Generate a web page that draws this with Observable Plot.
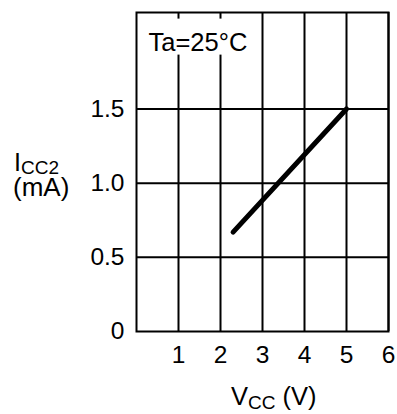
<!DOCTYPE html>
<html>
<head>
<meta charset="utf-8">
<script src="https://cdn.jsdelivr.net/npm/d3@7"></script>
<script src="https://cdn.jsdelivr.net/npm/@observablehq/plot@0.6"></script>
<style>
  html, body { margin: 0; padding: 0; background: #fff; }
  #chart svg { display: block; }
</style>
</head>
<body>
<div id="chart"></div>
<script>
// Data
const vcc = [2.3, 5.0];           // V
const icc2 = [0.67, 1.5];         // mA
const xTicks = [1, 2, 3, 4, 5, 6];
const yTicks = [0, 0.5, 1.0, 1.5];
const yTickLabels = ["0", "0.5", "1.0", "1.5"];
const yGrid = [0.5, 1.0, 1.5];
const annotation = ["Ta=25°C"];

const data = vcc.map((v, i) => ({vcc: v, icc: icc2[i]}));
const font = "'Liberation Sans', Arial, Helvetica, sans-serif";

const plot = Plot.plot({
  width: 397,
  height: 414,
  marginLeft: 136,
  marginRight: 9,
  marginTop: 12,
  marginBottom: 83,
  style: {fontFamily: font, fontSize: "24px", color: "black", background: "white"},
  x: {domain: [0, 6]},
  y: {domain: [0, 2.15]},
  marks: [
    Plot.gridX(xTicks, {stroke: "black", strokeOpacity: 1, strokeWidth: 2}),
    Plot.gridY(yGrid, {stroke: "black", strokeOpacity: 1, strokeWidth: 2}),
    Plot.frame({stroke: "black", strokeWidth: 2}),
    Plot.text(annotation, {
      frameAnchor: "top-left", textAnchor: "start", lineAnchor: "top",
      dx: 12, dy: 20, fontSize: 25.5, fill: "black"
    }),
    Plot.line(data, {x: "vcc", y: "icc", stroke: "black", strokeWidth: 5, strokeLinecap: "round"}),
    Plot.axisX(xTicks, {tickSize: 0, tickPadding: 14, label: null, fontSize: 24.5}),
    Plot.axisY(yTicks, {tickSize: 0, tickPadding: 12, label: null, fontSize: 24.5,
      tickFormat: (d) => yTickLabels[yTicks.indexOf(d)]})
  ]
});

document.getElementById("chart").append(plot);

const svg = d3.select(plot);

// white box behind the annotation
svg.selectAll("text").filter(function () { return this.textContent === annotation[0]; })
  .each(function () {
    const bb = this.getBBox();
    d3.select(this.parentNode).insert("rect", "text")
      .attr("transform", this.getAttribute("transform"))
      .attr("x", bb.x - 4).attr("y", bb.y - 9)
      .attr("width", bb.width + 8).attr("height", bb.height + 8)
      .attr("fill", "white").attr("stroke", "none");
  });

// Y axis label: I_CC2 (mA)
const yl = svg.append("text")
  .attr("font-family", font).attr("font-size", 25).attr("fill", "black")
  .attr("text-anchor", "start");
yl.append("tspan").attr("x", 14).attr("y", 171).text("I");
yl.append("tspan").attr("font-size", 19).attr("dy", 3).text("CC2");
svg.append("text")
  .attr("font-family", font).attr("font-size", 26).attr("fill", "black")
  .attr("text-anchor", "start")
  .attr("x", 13).attr("y", 196).text("(mA)");

// X axis label: V_CC (V)
const xl = svg.append("text")
  .attr("font-family", font).attr("font-size", 25.5).attr("fill", "black")
  .attr("text-anchor", "start")
  .attr("x", 231).attr("y", 405);
xl.append("tspan").text("V");
xl.append("tspan").attr("font-size", 19).attr("dy", 4).text("CC");
xl.append("tspan").attr("dy", -4).text(" (V)");
</script>
</body>
</html>
